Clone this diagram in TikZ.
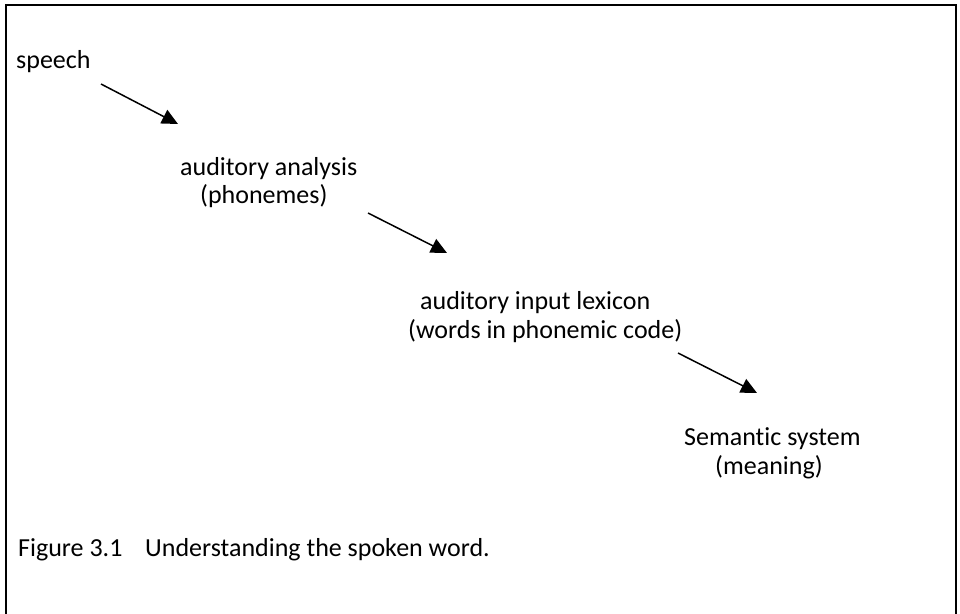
\documentclass[tikz,border=0pt]{standalone}
\usepackage{fontspec}
\setmainfont{Carlito}[Ligatures=NoCommon]
\usetikzlibrary{arrows.meta}
\begin{document}
\begin{tikzpicture}[x=1pt,y=-1pt,
  lbl/.style={anchor=base west,inner sep=0pt,font=\fontsize{26}{30}\selectfont},
  conn/.style={line width=1.5pt,-{Triangle[length=16pt,width=15pt]}},
  frame/.style={line width=2.2pt}]
\useasboundingbox (0,0) rectangle (960,613);
\draw[frame] (6,625) -- (6,5) -- (956,5) -- (956,625);
\node[lbl] (speech) at (16,68) {speech};
\node[lbl] (aa) at (180,175) {auditory analysis};
\node[lbl] (ph) at (200,203) {(phonemes)};
\node[lbl] (ail) at (420,309) {auditory input lexicon};
\node[lbl] (wp) at (408,338) {(words in phonemic code)};
\node[lbl] (sem) at (684,445) {Semantic system};
\node[lbl] (mean) at (715,474) {(meaning)};
\node[lbl] (cap) at (18,556) {Figure 3.1\hspace{0.65em} Understanding the spoken word.};
\coordinate (a1s) at (101,84);
\coordinate (a1e) at (178,124);
\coordinate (a2s) at (368,213);
\coordinate (a2e) at (447,253);
\coordinate (a3s) at (678,353);
\coordinate (a3e) at (757,393);
\draw[conn] (a1s) -- (a1e);
\draw[conn] (a2s) -- (a2e);
\draw[conn] (a3s) -- (a3e);
\end{tikzpicture}
\end{document}
